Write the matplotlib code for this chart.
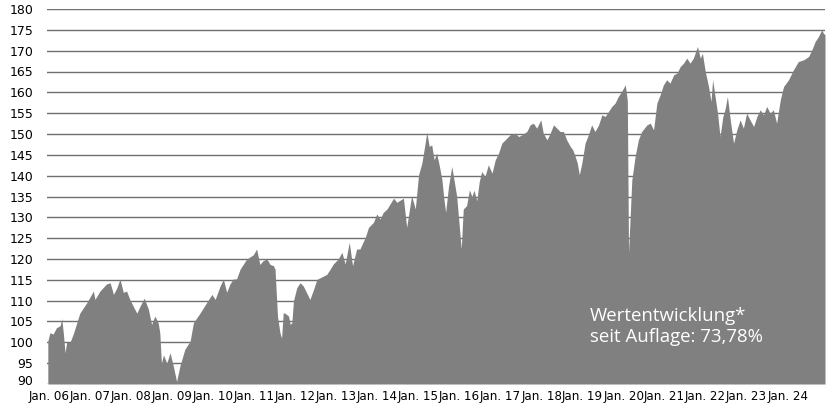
import matplotlib
matplotlib.use("Agg")
import matplotlib.pyplot as plt
import matplotlib.transforms as mtransforms
import numpy as np

# decimal year, index value
years = [
    2005.96, 2006.01, 2006.09, 2006.17, 2006.26, 2006.30, 2006.34, 2006.38, 2006.42, 2006.50,
    2006.58, 2006.74, 2006.91, 2007.07, 2007.11, 2007.23, 2007.39, 2007.48, 2007.56, 2007.64,
    2007.72, 2007.80, 2007.88, 2007.96, 2008.04, 2008.13, 2008.21, 2008.31, 2008.41, 2008.49,
    2008.57, 2008.65, 2008.69, 2008.73, 2008.78, 2008.86, 2008.94, 2009.02, 2009.10, 2009.18,
    2009.30, 2009.43, 2009.51, 2009.67, 2009.83, 2009.96, 2010.04, 2010.16, 2010.24, 2010.32,
    2010.40, 2010.48, 2010.56, 2010.65, 2010.81, 2010.97, 2011.05, 2011.13, 2011.21, 2011.30,
    2011.38, 2011.46, 2011.50, 2011.56, 2011.62, 2011.66, 2011.70, 2011.74, 2011.78, 2011.83,
    2011.87, 2011.91, 2011.95, 2012.03, 2012.11, 2012.19, 2012.27, 2012.35, 2012.44, 2012.52,
    2012.60, 2012.76, 2012.84, 2012.92, 2013.04, 2013.13, 2013.21, 2013.31, 2013.39, 2013.49,
    2013.57, 2013.70, 2013.78, 2013.90, 2013.98, 2014.06, 2014.14, 2014.23, 2014.39, 2014.47,
    2014.63, 2014.71, 2014.83, 2014.92, 2015.00, 2015.08, 2015.16, 2015.20, 2015.26, 2015.32,
    2015.38, 2015.44, 2015.51, 2015.57, 2015.61, 2015.66, 2015.73, 2015.81, 2015.89, 2015.93,
    2016.04, 2016.09, 2016.17, 2016.24, 2016.30, 2016.35, 2016.42, 2016.48, 2016.54, 2016.62,
    2016.70, 2016.79, 2016.87, 2016.95, 2017.03, 2017.11, 2017.23, 2017.35, 2017.44, 2017.52,
    2017.64, 2017.72, 2017.80, 2017.88, 2017.98, 2018.04, 2018.13, 2018.21, 2018.29, 2018.37,
    2018.45, 2018.53, 2018.61, 2018.70, 2018.76, 2018.82, 2018.87, 2018.92, 2018.98, 2019.06,
    2019.14, 2019.22, 2019.30, 2019.39, 2019.47, 2019.55, 2019.63, 2019.71, 2019.79, 2019.87,
    2019.95, 2020.04, 2020.09, 2020.12, 2020.20, 2020.28, 2020.36, 2020.44, 2020.57, 2020.65,
    2020.73, 2020.81, 2020.89, 2020.97, 2021.05, 2021.13, 2021.22, 2021.30, 2021.38, 2021.46,
    2021.54, 2021.62, 2021.70, 2021.80, 2021.87, 2021.92, 2021.99, 2022.07, 2022.13, 2022.17,
    2022.23, 2022.29, 2022.35, 2022.42, 2022.47, 2022.53, 2022.60, 2022.68, 2022.76, 2022.84,
    2022.92, 2023.00, 2023.08, 2023.17, 2023.25, 2023.33, 2023.41, 2023.49, 2023.57, 2023.65,
    2023.73, 2023.82, 2023.90, 2024.02, 2024.14, 2024.26, 2024.39, 2024.51, 2024.59, 2024.67,
    2024.75, 2024.83, 2024.87, 2024.91,
]
values = [
    100.3, 102.3, 102.0, 103.5, 104.0, 105.7, 102.0, 97.5, 100.0, 100.0,
    102.0, 107.0, 109.5, 112.3, 110.3, 112.3, 114.0, 114.3, 111.5, 113.0,
    115.2, 112.0, 112.3, 110.3, 108.7, 107.0, 108.7, 110.6, 108.0, 104.3,
    106.3, 104.7, 102.3, 95.0, 97.0, 95.0, 97.5, 94.3, 90.6, 94.3,
    98.3, 100.3, 104.7, 107.0, 109.5, 111.5, 110.3, 113.5, 115.2, 112.0,
    114.0, 115.2, 115.2, 117.6, 120.0, 121.0, 122.4, 118.7, 119.6, 120.0,
    118.7, 118.4, 117.6, 106.3, 102.3, 101.0, 107.1, 107.0, 106.7, 106.3,
    104.3, 104.7, 110.0, 113.1, 114.3, 113.5, 111.9, 110.3, 112.7, 115.1,
    115.5, 116.3, 117.5, 118.8, 120.0, 121.6, 118.8, 124.0, 118.4, 122.4,
    122.4, 125.2, 127.6, 128.8, 130.8, 129.6, 131.2, 132.0, 134.6, 133.6,
    134.6, 127.6, 135.2, 132.0, 140.2, 143.0, 147.8, 150.4, 147.0, 147.4,
    143.8, 145.4, 142.2, 139.0, 135.0, 131.2, 137.4, 142.2, 137.4, 135.0,
    122.4, 132.0, 132.8, 136.6, 135.0, 136.5, 134.0, 138.6, 141.0, 139.8,
    142.6, 140.6, 143.8, 145.4, 147.8, 148.6, 149.8, 150.2, 149.4, 149.8,
    150.6, 152.2, 152.6, 151.4, 153.4, 150.2, 148.6, 150.2, 152.2, 151.4,
    150.6, 150.6, 148.6, 147.0, 146.2, 144.6, 143.0, 140.2, 143.0, 147.8,
    149.8, 152.2, 150.6, 152.2, 154.6, 154.2, 155.4, 156.6, 157.4, 159.0,
    160.2, 161.8, 158.0, 121.5, 139.0, 144.6, 148.6, 150.6, 152.2, 152.6,
    151.0, 157.4, 159.4, 161.8, 163.0, 162.2, 164.2, 164.6, 166.2, 167.0,
    168.2, 167.0, 168.2, 171.0, 168.2, 169.4, 165.0, 161.4, 157.8, 163.0,
    159.0, 155.0, 149.4, 154.2, 155.8, 159.0, 153.4, 147.8, 151.0, 153.4,
    151.4, 155.0, 153.4, 151.8, 154.2, 155.8, 154.6, 156.6, 155.0, 155.8,
    152.6, 158.2, 161.4, 163.0, 165.4, 167.4, 167.8, 168.6, 170.2, 172.2,
    173.4, 175.0, 174.2, 173.8,
]

tick_years = list(range(2006, 2025))
tick_labels = ["Jan. %02d" % (y % 100) for y in tick_years]
y_ticks = list(range(90, 181, 5))

plt.rcParams["font.family"] = ["DejaVu Sans"]

fig = plt.figure(figsize=(8.32, 4.05), dpi=100)
ax = fig.add_axes([47 / 832, 21 / 405, 778 / 832, 375 / 405])

ax.fill_between(years, values, 90, color="#808080", linewidth=0, zorder=2)

ax.set_xlim(2005.94, 2024.91)
ax.set_ylim(90, 180)
ax.set_yticks(y_ticks)
ax.set_yticklabels([str(v) for v in y_ticks], fontsize=9)
ax.set_xticks(tick_years)
ax.set_xticklabels(tick_labels, fontsize=8.6)
ax.tick_params(length=0)
ax.tick_params(axis="y", pad=10)
ax.tick_params(axis="x", pad=4)
ax.yaxis.grid(True, color="#707070", linewidth=1, zorder=0)
ax.set_axisbelow(True)
for spine in ax.spines.values():
    spine.set_visible(False)

# lift the bottom "90" label a little, as in the reference
lbl = ax.get_yticklabels()[0]
lbl.set_transform(lbl.get_transform() + mtransforms.ScaledTranslation(0, 3 / 72, fig.dpi_scale_trans))

ax.text(2019.18, 103.8, "Wertentwicklung*\nseit Auflage: 73,78%",
        color="white", fontsize=13.4, family="Open Sans",
        va="center", ha="left", linespacing=1.2, zorder=3)

fig.savefig("out.png", dpi=100)
